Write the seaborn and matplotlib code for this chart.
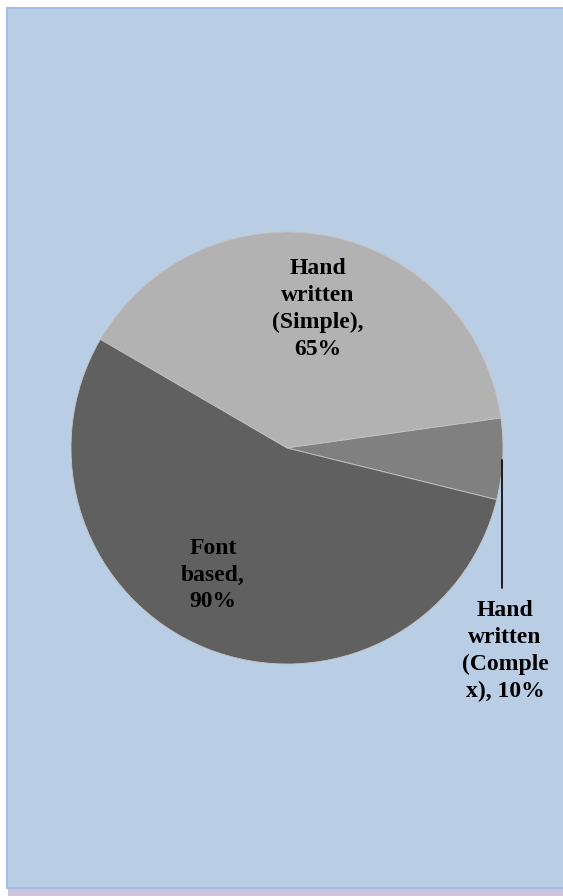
import matplotlib
matplotlib.use("Agg")
import matplotlib.pyplot as plt
from matplotlib.patches import Rectangle
import seaborn as sns

# Data
categories = ["Hand\nwritten\n(Simple)", "Hand\nwritten\n(Comple\nx)", "Font\nbased"]
values = [65, 10, 90]
label_texts = ["Hand\nwritten\n(Simple),\n65%", "Hand\nwritten\n(Comple\nx), 10%", "Font\nbased,\n90%"]
colors = ["#b2b2b2", "#808080", "#606060"]

sns.set_style("white")
plt.rcParams['font.family'] = ['Liberation Serif', 'DejaVu Serif']

W, H = 563, 896
fig = plt.figure(figsize=(W / 100, H / 100), dpi=100)
fig.patch.set_facecolor("white")

# background panel
fig.add_artist(Rectangle((8 / W, 0), 1, 7 / H, transform=fig.transFigure,
                         facecolor="#cdc3dc", edgecolor="none", zorder=-10))
fig.add_artist(Rectangle((7 / W, 8 / H), 1, (888 - 8) / H, transform=fig.transFigure,
                         facecolor="#b9cde4", edgecolor="#a4bce6", linewidth=1.5, zorder=-9))

cx, cy, r = 287, 448, 216
ax = fig.add_axes([(cx - r) / W, (H - cy - r) / H, 2 * r / W, 2 * r / H])
ax.set_zorder(5)
ax.set_facecolor("none")
ax.pie(values, colors=colors, startangle=149.8, counterclock=False, radius=1,
       wedgeprops=dict(edgecolor="#c4c4c4", linewidth=0.6))
ax.set_xlim(-1, 1)
ax.set_ylim(-1, 1)
ax.set_aspect("auto")
ax.axis("off")


def px(x, y):
    return (x - cx) / r, (cy - y) / r


label_pos = [(318, 309), (505, 651), (213, 575)]
for txt, (lx, ly) in zip(label_texts, label_pos):
    x, y = px(lx, ly)
    ax.text(x, y, txt, ha="center", va="center", fontsize=17, fontweight="bold",
            linespacing=1.36, color="black", clip_on=False)

x0, y0 = px(502, 460)
x1, y1 = px(502, 588)
ax.plot([x0, x1], [y0, y1], color="black", linewidth=1.2, clip_on=False)

fig.savefig("out.png", dpi=100, facecolor=fig.get_facecolor())
